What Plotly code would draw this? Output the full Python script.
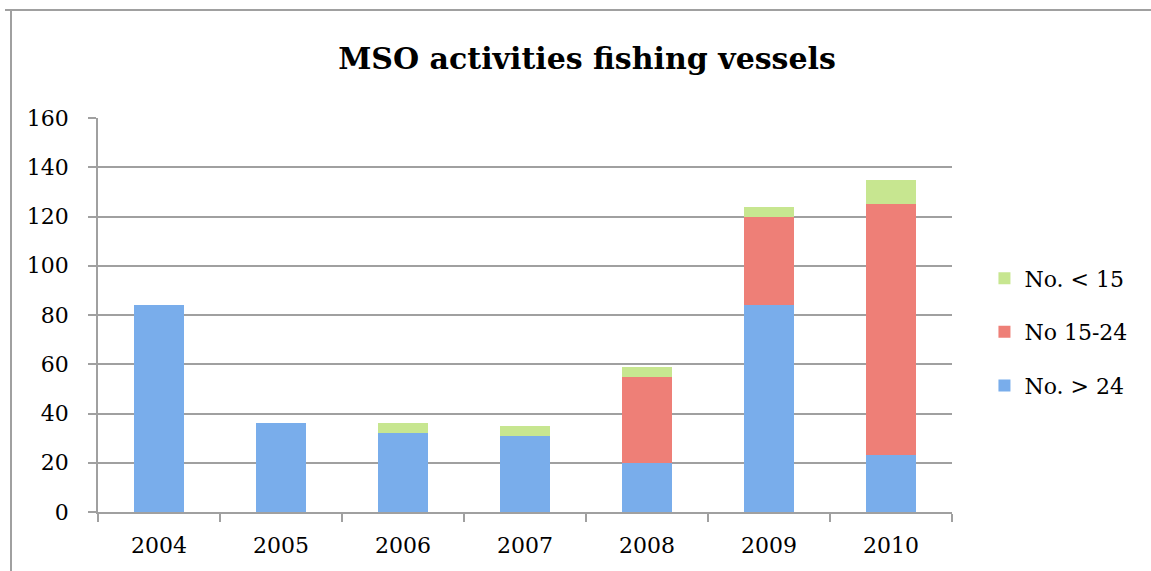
import plotly.graph_objects as go

years = ["2004", "2005", "2006", "2007", "2008", "2009", "2010"]
over_24 = [84, 36, 32, 31, 20, 84, 23]
from_15_24 = [0, 0, 0, 0, 35, 36, 102]
under_15 = [0, 0, 4, 4, 4, 4, 10]
y_ticks = [0, 20, 40, 60, 80, 100, 120, 140, 160]

FONT = "DejaVu Serif"
GRID = "#a0a0a0"

fig = go.Figure()
series = [
    ("No. > 24", over_24, "#79ADEB", 3),
    ("No 15-24", from_15_24, "#EE7F77", 2),
    ("No. < 15", under_15, "#C7E690", 1),
]
for name, vals, color, rank in series:
    fig.add_trace(go.Bar(
        x=years, y=vals, name=name, legendgroup="g%d" % rank,
        legendrank=rank,
        marker=dict(color=color, line=dict(width=0)),
    ))

fig.update_layout(
    width=1151, height=571,
    barmode="stack", bargap=0.59,
    plot_bgcolor="white", paper_bgcolor="white",
    margin=dict(l=98, r=199, t=118, b=59),
    font=dict(family=FONT, size=22, color="black"),
    title=dict(text="<b>MSO activities fishing vessels</b>",
               x=0.51, xanchor="center", y=0.897, yanchor="middle",
               font=dict(family=FONT, size=30, color="black")),
    legend=dict(x=1.038, xanchor="left", y=0.457, yanchor="middle",
                traceorder="grouped", tracegroupgap=22,
                font=dict(family=FONT, size=22)),
    xaxis=dict(type="category", showgrid=False, showline=True,
               linecolor=GRID, linewidth=1.5, ticks="outside",
               tickson="boundaries", ticklen=8, tickcolor=GRID,
               tickwidth=1.5, ticklabelstandoff=13),
    yaxis=dict(range=[0, 160], tickvals=y_ticks, showgrid=True,
               gridcolor=GRID, gridwidth=1.5, showline=True,
               linecolor=GRID, linewidth=1.5, ticks="outside",
               ticklen=8, tickcolor=GRID, tickwidth=1.5,
               ticklabelstandoff=15, zeroline=False),
)

# outer frame lines (top and left)
plot_w = 1151 - 98 - 199
plot_h = 571 - 118 - 59
fig.add_shape(type="line", xref="paper", yref="paper",
              x0=(5 - 98) / plot_w, x1=(1151 - 98) / plot_w,
              y0=(571 - 59 - 10) / plot_h, y1=(571 - 59 - 10) / plot_h,
              line=dict(color="#a0a0a0", width=2))
fig.add_shape(type="line", xref="paper", yref="paper",
              x0=(11 - 98) / plot_w, x1=(11 - 98) / plot_w,
              y0=(571 - 59 - 10) / plot_h, y1=(571 - 59 - 571) / plot_h,
              line=dict(color="#a0a0a0", width=2))

fig.write_html("out.html")
